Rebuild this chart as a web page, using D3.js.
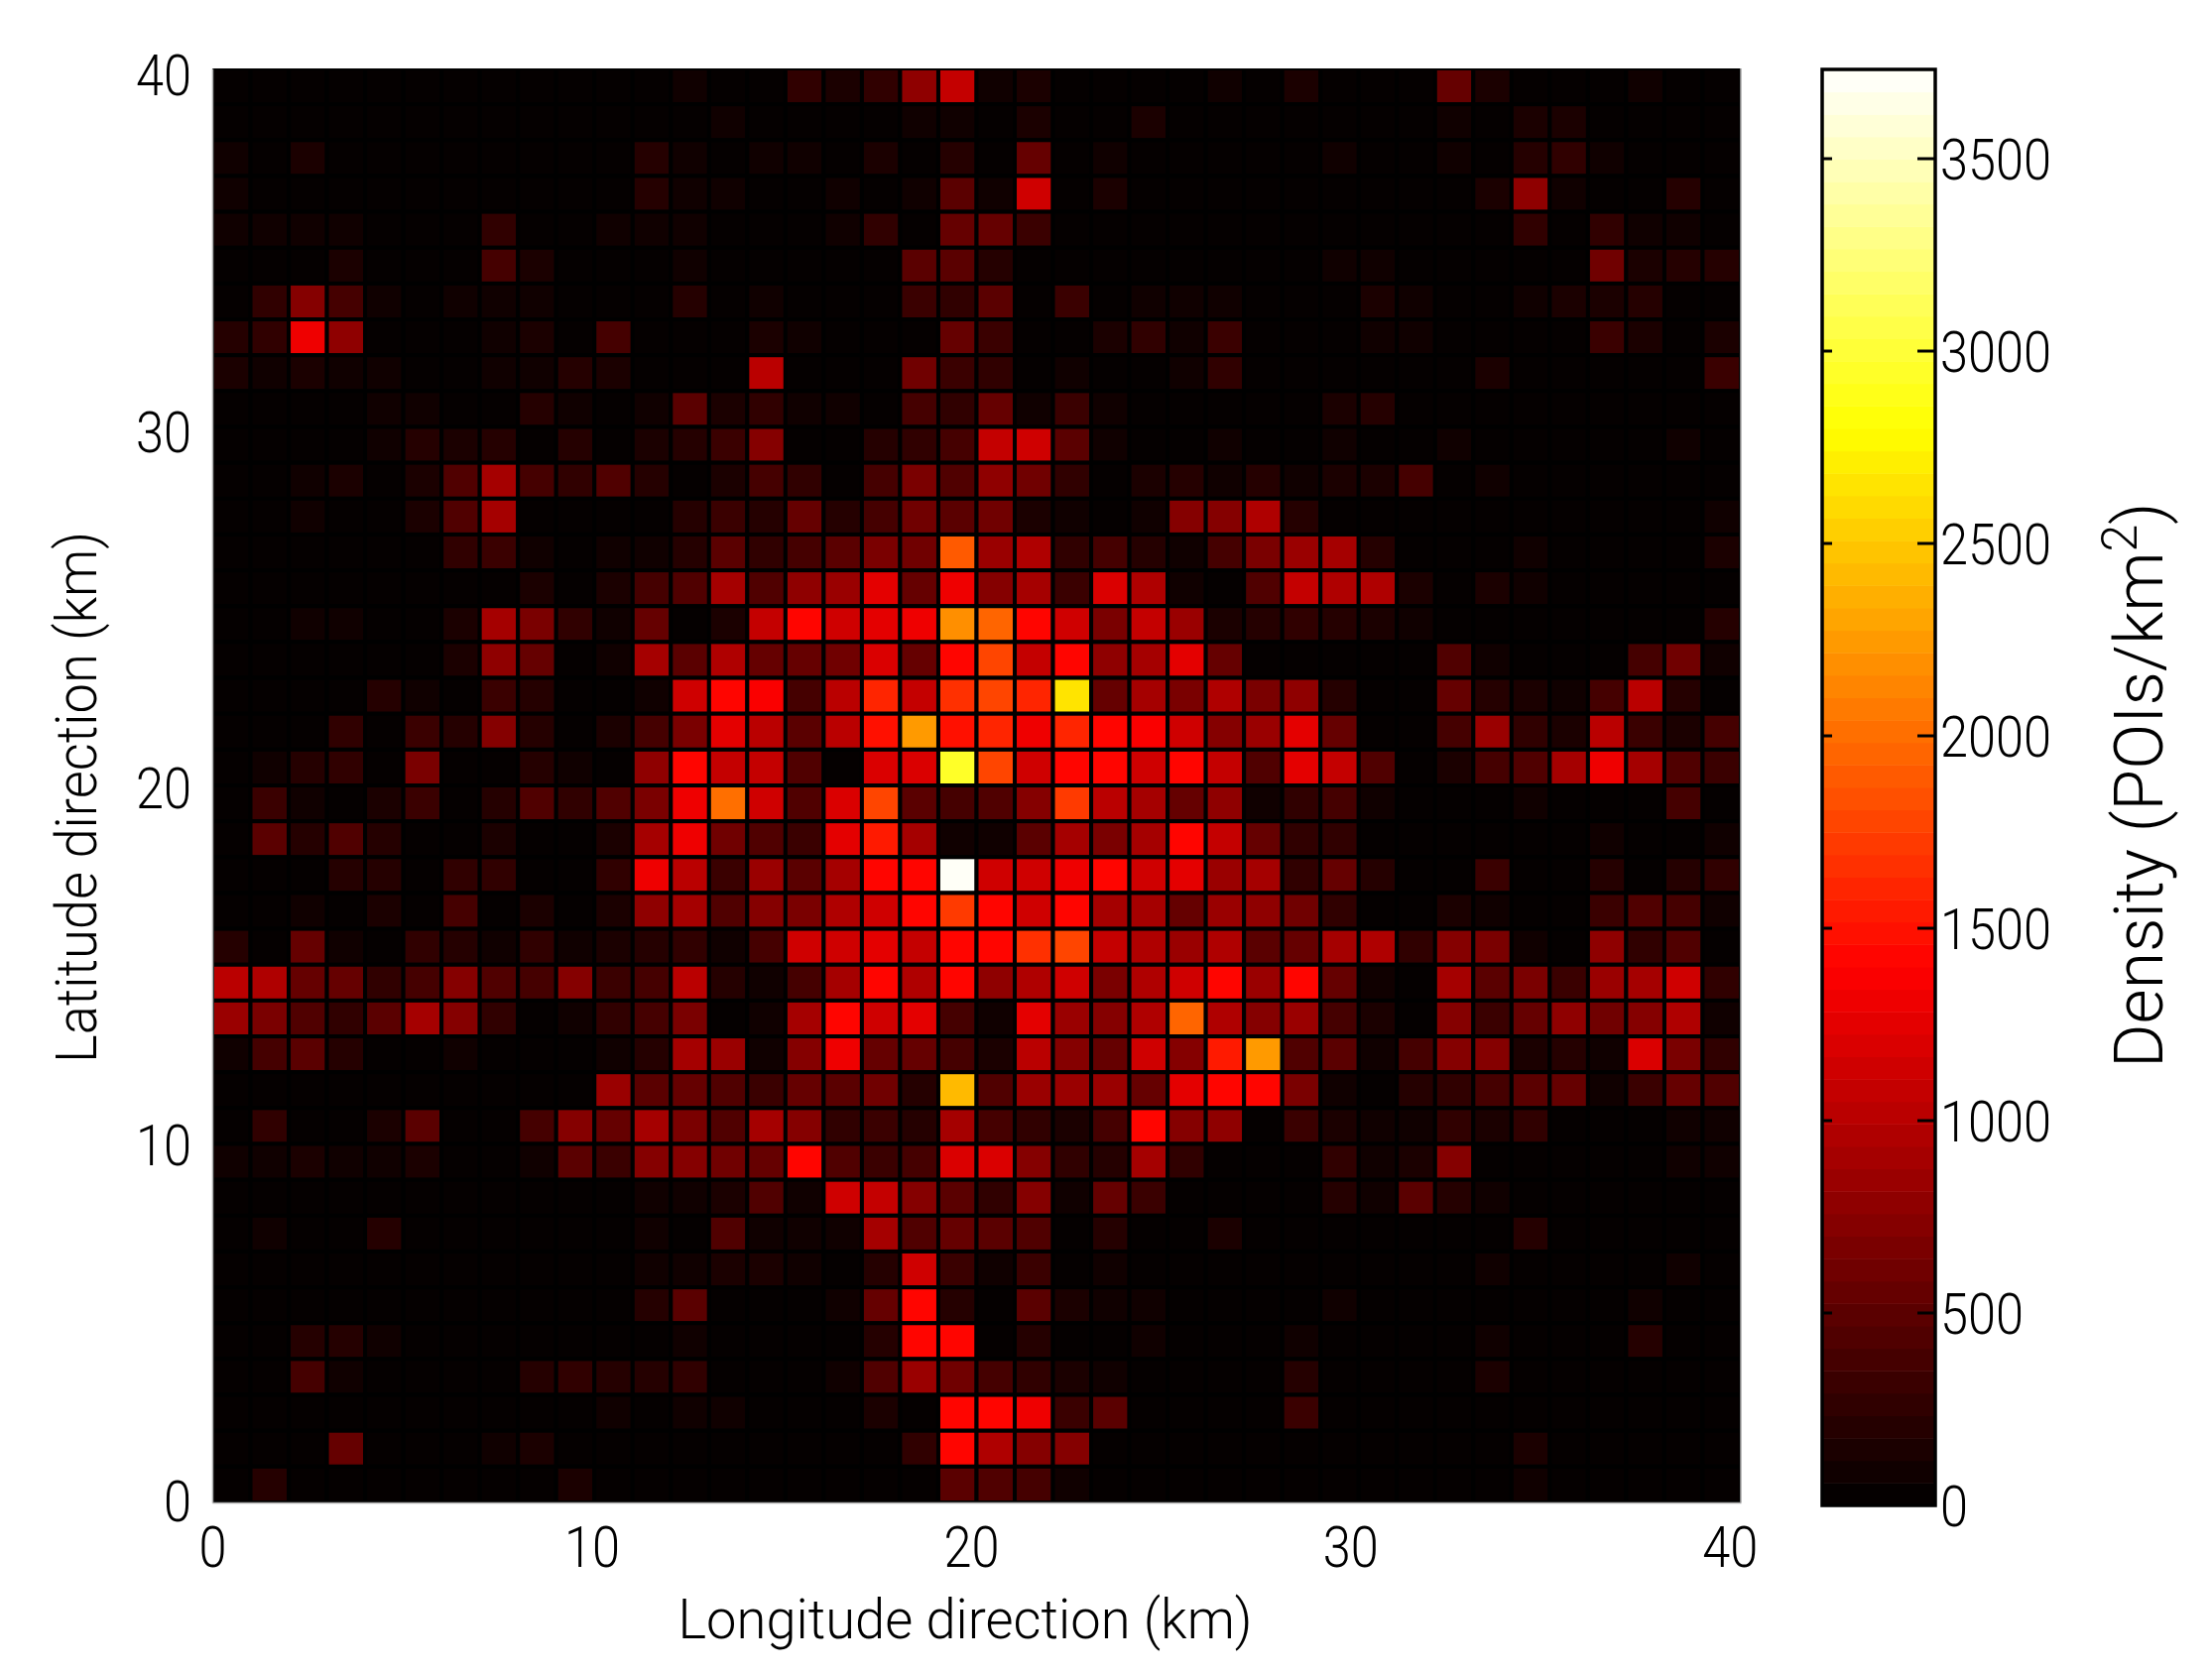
<!DOCTYPE html>
<html>
<head>
<meta charset="utf-8">
<script src="https://cdn.jsdelivr.net/npm/d3@7"></script>
<style>
    html, body { margin: 0; padding: 0; background: #fff; }
    text { font-family: Roboto, "Liberation Sans", sans-serif; font-weight: 300; fill: #000; }
</style>
</head>
<body>
<svg id="chart"></svg>
<script>
// POIs per km2. First row is the top one (latitude 39-40 km),
// each row runs from longitude 0 to 40 km
const densityRows = [
    [20,20,20,20,20,20,20,20,20,20,20,20,90,20,20,260,150,260,790,1100, 60,140,20,20,20,20,80,20,170,20,20,20,540,170,20,20,20,70,20,20],
    [20,20,20,20,20,20,20,20,20,20,20,20,20,80,20,20,20,20,60,80, 20,120,20,20,140,20,20,20,20,20,20,20,60,20,130,140,20,20,20,20],
    [70,20,140,20,20,20,20,20,20,20,20,210,70,20,70,70,20,140,50,210, 50,530,20,60,20,20,20,20,20,60,20,20,60,20,230,240,60,20,20,20],
    [70,20,20,20,20,20,20,20,20,20,20,220,70,60,20,20,70,20,60,480, 110,1110,20,120,20,20,20,20,20,20,20,20,20,120,790,70,20,20,200,20],
    [80,70,60,70,20,20,20,240,20,20,60,60,70,20,20,20,60,240,20,550, 550,320,20,20,20,20,20,20,20,20,20,20,20,20,260,20,240,70,70,20],
    [20,20,20,130,20,20,20,400,130,20,20,20,60,20,20,50,50,40,480,480, 200,50,20,20,20,20,20,20,20,60,60,20,20,20,20,20,610,130,220,220],
    [20,260,700,400,60,20,60,110,60,20,20,20,230,20,70,20,20,20,330,260, 480,50,300,20,110,60,60,20,20,20,140,60,20,20,70,140,130,230,50,20],
    [210,270,1300,770,20,20,20,70,120,20,400,20,20,20,140,60,50,20,50,540, 320,50,20,120,240,100,300,20,20,20,60,60,20,20,20,20,320,120,20,130],
    [130,110,140,90,110,20,20,110,110,230,120,50,50,40,1000,50,50,40,610,340, 290,20,90,20,20,100,240,20,20,20,20,20,20,140,20,20,20,40,20,320],
    [20,20,20,40,110,100,50,40,230,100,20,100,480,120,260,110,110,50,400,250, 550,100,310,60,50,20,20,20,20,130,220,20,20,20,20,20,20,50,50,20],
    [20,20,20,30,100,230,140,220,50,190,40,140,190,300,700,20,50,190,270,400, 1100,1140,500,90,40,20,60,40,20,110,50,20,60,50,20,20,20,50,60,20],
    [20,20,100,130,40,130,460,920,350,240,420,220,50,150,350,290,20,370,660,460, 770,640,240,20,130,190,100,200,80,150,130,350,20,100,20,20,50,20,20,20],
    [20,20,100,20,20,150,420,920,50,50,20,50,190,340,220,550,200,350,620,500, 620,130,70,40,70,730,730,990,190,40,40,20,20,20,20,20,20,20,20,60],
    [20,20,20,20,20,20,240,310,110,20,100,90,190,480,240,380,470,660,600,1880, 820,970,240,380,190,80,400,690,840,930,200,20,20,20,60,20,20,20,20,130],
    [20,20,20,20,20,20,20,50,120,20,120,400,440,900,440,790,840,1250,530,1340, 730,900,310,1210,990,70,40,420,1060,970,970,170,20,170,100,20,20,20,50,20],
    [20,20,60,60,20,20,130,920,680,260,110,550,50,150,1100,1430,1140,1280,1340,2210, 1960,1420,1120,660,1060,840,120,190,240,220,150,100,50,40,20,20,20,20,40,190],
    [20,20,20,40,20,20,120,790,530,20,110,880,500,970,570,570,620,1190,530,1420, 1780,1060,1420,770,920,1230,570,30,20,20,20,50,440,100,20,20,20,380,620,100],
    [20,20,20,50,210,60,20,330,230,50,50,110,1140,1420,1390,350,1010,1600,1080,1670, 1780,1600,2660,530,880,660,990,660,770,200,20,20,550,210,170,60,350,1030,220,20],
    [20,20,20,280,50,310,190,730,220,50,120,380,660,1230,1010,480,1010,1500,2240,1500, 1600,1290,1600,1430,1390,1140,750,860,1230,570,50,50,350,840,290,130,1010,330,150,400],
    [20,60,190,260,50,660,20,40,190,100,30,770,1430,1080,1100,420,50,1190,1210,2950, 1780,1140,1420,1420,1120,1420,1060,460,1230,1080,420,20,130,350,460,920,1300,900,420,310],
    [20,320,70,50,170,320,50,200,460,240,440,680,1300,2000,1120,420,1210,1780,500,400, 440,750,1700,1030,920,530,790,60,290,350,80,20,20,20,80,20,20,20,350,50],
    [20,500,200,440,190,20,20,170,20,20,170,900,1300,640,460,330,1280,1520,920,110, 110,500,880,680,880,1430,1100,530,260,240,40,20,20,20,20,20,110,20,40,60],
    [50,20,20,190,230,20,240,240,50,20,260,1300,1010,310,840,500,880,1430,1420,3700, 1120,1120,1320,1430,1120,1250,860,880,290,570,220,40,50,310,20,20,190,40,190,240],
    [20,20,110,40,170,20,400,40,170,20,150,770,880,460,700,680,970,1140,1420,1700, 1430,1120,1430,900,880,570,840,770,640,290,50,20,170,100,20,20,310,440,380,70],
    [220,20,530,100,20,240,220,100,260,110,150,220,260,110,350,1120,1120,1230,1060,1420, 1430,1640,1760,1060,970,820,950,500,570,900,970,260,700,680,100,20,770,290,420,50],
    [1030,950,530,570,240,400,730,440,380,730,330,400,1010,220,110,350,880,1420,990,1420, 790,990,1120,660,970,1120,1400,820,1430,570,100,50,880,480,660,300,820,880,1120,290],
    [840,660,440,290,500,880,730,270,20,100,290,350,660,10,100,920,1420,1120,1250,380, 80,1250,860,730,950,1930,950,730,820,400,170,50,700,310,530,790,620,700,950,110],
    [70,350,470,230,50,50,110,20,20,40,110,220,880,840,110,750,1340,570,530,350, 150,1010,750,530,1120,730,1570,2270,440,480,100,350,730,730,170,190,110,1210,660,260],
    [20,20,20,20,50,40,20,20,40,20,820,480,530,440,330,570,510,640,200,2400, 440,820,820,820,550,1280,1400,1420,660,100,40,190,240,350,480,530,60,330,570,420],
    [20,240,50,20,150,470,20,20,380,730,550,900,660,440,880,700,290,330,220,880, 400,240,150,400,1420,700,790,10,310,170,60,80,240,160,240,40,20,20,100,80],
    [70,90,150,70,70,130,20,20,60,510,320,730,750,620,550,1420,460,330,380,1190, 1170,750,290,200,880,290,20,20,20,260,110,170,750,40,40,20,20,20,60,60],
    [20,50,40,40,20,20,20,20,20,40,20,90,110,170,440,70,1140,1100,700,500, 260,700,70,550,320,40,20,20,20,200,90,500,220,110,40,40,20,20,20,20],
    [20,60,20,20,210,20,20,20,20,20,20,90,50,460,80,70,110,900,420,550, 490,420,40,190,40,20,140,20,20,40,50,20,20,20,220,50,20,20,20,20],
    [20,20,20,20,20,20,20,20,20,20,40,90,90,150,150,90,20,190,1120,310, 80,310,40,100,20,40,20,20,20,50,20,20,20,110,50,50,20,20,60,20],
    [20,20,20,20,20,20,20,20,20,20,20,190,470,40,40,40,100,530,1430,190, 20,470,150,100,110,20,20,20,20,60,20,20,20,20,20,20,20,80,20,20],
    [20,20,190,220,70,20,20,20,20,20,20,20,60,20,20,50,50,230,1430,1430, 20,200,40,20,110,20,20,20,70,20,20,20,20,60,20,20,20,200,20,20],
    [20,50,400,110,20,20,20,20,190,290,200,200,290,20,20,20,100,440,820,640, 380,290,160,110,50,50,50,50,230,50,20,20,20,150,20,20,20,20,20,20],
    [20,20,20,20,20,20,20,50,40,20,110,20,100,90,20,20,20,170,40,1420, 1430,1340,340,470,20,20,20,20,310,50,20,20,20,20,20,20,20,20,20,20],
    [20,50,20,530,20,20,50,110,130,20,20,20,20,40,20,20,20,40,260,1430, 950,750,750,20,50,20,20,20,20,20,20,20,20,20,140,20,20,20,20,20],
    [20,220,20,50,50,20,20,50,20,150,20,20,20,20,20,20,20,50,20,500, 460,350,100,20,20,20,20,20,20,20,20,20,20,20,60,20,20,20,20,20]
]

const axisTicks = [0, 10, 20, 30, 40]
const colorbarTicks = [0, 500, 1000, 1500, 2000, 2500, 3000, 3500]
const maxDensity = 3732
const colorLevels = 64

const width = 2230
const height = 1688
const plot = { left: 214, right: 1755, top: 69, bottom: 1515 }
const bar = { left: 1837, right: 1951, top: 70, bottom: 1518 }
const digitWidth = 28

const svg = d3.select("#chart")
    .attr("width", width)
    .attr("height", height)
    .style("display", "block")

// same three ramps as matlab's hot: black-red, red-yellow, yellow-white
const hot = d3.scaleLinear()
    .domain([0, 1400, 2800, maxDensity])
    .range(["#000000", "#ff0000", "#ffff00", "#ffffff"])

const bandColors = d3.range(colorLevels).map(i => hot((i + 0.5) * maxDensity / colorLevels))
const colorScale = d3.scaleQuantize()
    .domain([0, maxDensity])
    .range(bandColors)

const xScale = d3.scaleLinear().domain([0, 40]).range([plot.left, plot.right])
const yScale = d3.scaleLinear().domain([0, 40]).range([plot.bottom, plot.top])
const barScale = d3.scaleLinear().domain([0, maxDensity]).range([bar.bottom, bar.top])

// cells, flattened from the rows
const cells = densityRows.flatMap((row, r) => row.map((value, c) => ({ col: c, lat: 39 - r, value: value })))

svg.append("clipPath")
    .attr("id", "plot-clip")
    .append("rect")
    .attr("x", plot.left)
    .attr("y", plot.top)
    .attr("width", plot.right - plot.left)
    .attr("height", plot.bottom - plot.top)

svg.append("g")
    .attr("clip-path", "url(#plot-clip)")
    .selectAll("rect")
    .data(cells)
    .enter()
    .append("rect")
    .attr("x", d => xScale(d.col))
    .attr("y", d => yScale(d.lat + 1))
    .attr("width", d => xScale(d.col + 1) - xScale(d.col))
    .attr("height", d => yScale(d.lat) - yScale(d.lat + 1))
    .attr("fill", d => colorScale(d.value))
    .attr("stroke", "#000")
    .attr("stroke-width", 4)

// axes
const xAxis = d3.axisBottom(xScale).tickValues(axisTicks).tickSize(0).tickPadding(24)
const yAxis = d3.axisLeft(yScale).tickValues(axisTicks).tickSize(0).tickPadding(21)

const xGroup = svg.append("g")
    .attr("transform", `translate(0, ${plot.bottom})`)
    .call(xAxis)
const yGroup = svg.append("g")
    .attr("transform", `translate(${plot.left}, 0)`)
    .call(yAxis)

xGroup.select(".domain").attr("stroke", "#aaa").attr("stroke-width", 1.5)
yGroup.select(".domain").attr("stroke", "#aaa").attr("stroke-width", 1.5)

svg.append("line")
    .attr("x1", plot.right)
    .attr("x2", plot.right)
    .attr("y1", plot.top)
    .attr("y2", plot.bottom)
    .attr("stroke", "#aaa")
    .attr("stroke-width", 1.5)

// the labels in the picture drift a little off their ticks
xGroup.selectAll("text")
    .style("font-size", "58px")
    .attr("dx", d => -0.28 * d)
    .attr("textLength", d => String(d).length * digitWidth)
    .attr("lengthAdjust", "spacingAndGlyphs")
yGroup.selectAll("text")
    .style("font-size", "58px")
    .attr("dy", "0.36em")
    .attr("y", d => -2 + 0.2 * d)
    .attr("textLength", d => String(d).length * digitWidth)
    .attr("lengthAdjust", "spacingAndGlyphs")

// colorbar
svg.append("g")
    .selectAll("rect")
    .data(bandColors)
    .enter()
    .append("rect")
    .attr("x", bar.left)
    .attr("width", bar.right - bar.left)
    .attr("y", (d, i) => barScale((i + 1) * maxDensity / colorLevels))
    .attr("height", (bar.bottom - bar.top) / colorLevels + 0.5)
    .attr("fill", d => d)

svg.append("rect")
    .attr("x", bar.left)
    .attr("y", bar.top)
    .attr("width", bar.right - bar.left)
    .attr("height", bar.bottom - bar.top)
    .attr("fill", "none")
    .attr("stroke", "#000")
    .attr("stroke-width", 3.5)

const barTicks = svg.append("g")
    .selectAll("g")
    .data(colorbarTicks)
    .enter()
    .append("g")
    .attr("transform", d => `translate(0, ${barScale(d)})`)

barTicks.filter(d => d > 0).append("line")
    .attr("x1", bar.left)
    .attr("x2", bar.left + 10)
    .attr("stroke", "#000")
    .attr("stroke-width", 3)
barTicks.filter(d => d > 0).append("line")
    .attr("x1", bar.right - 18)
    .attr("x2", bar.right)
    .attr("stroke", "#000")
    .attr("stroke-width", 3)
barTicks.append("text")
    .attr("x", bar.right + 5)
    .attr("dy", "0.36em")
    .attr("textLength", d => String(d).length * digitWidth)
    .attr("lengthAdjust", "spacingAndGlyphs")
    .style("font-size", "58px")
    .text(d => d)

// axis titles
svg.append("text")
    .attr("x", 973)
    .attr("y", 1652)
    .attr("text-anchor", "middle")
    .attr("textLength", 579)
    .attr("lengthAdjust", "spacingAndGlyphs")
    .style("font-size", "56px")
    .text("Longitude direction (km)")

svg.append("text")
    .attr("transform", "translate(97, 804) rotate(-90)")
    .attr("text-anchor", "middle")
    .attr("textLength", 536)
    .attr("lengthAdjust", "spacingAndGlyphs")
    .style("font-size", "58px")
    .text("Latitude direction (km)")

const barTitle = svg.append("text")
    .attr("transform", "translate(2180, 1077) rotate(-90)")
    .style("font-size", "68px")
barTitle.append("tspan").text("Density (POIs/km")
barTitle.append("tspan").attr("dy", -26).style("font-size", "50px").text("2")
barTitle.append("tspan").attr("dy", 26).text(")")
</script>
</body>
</html>
